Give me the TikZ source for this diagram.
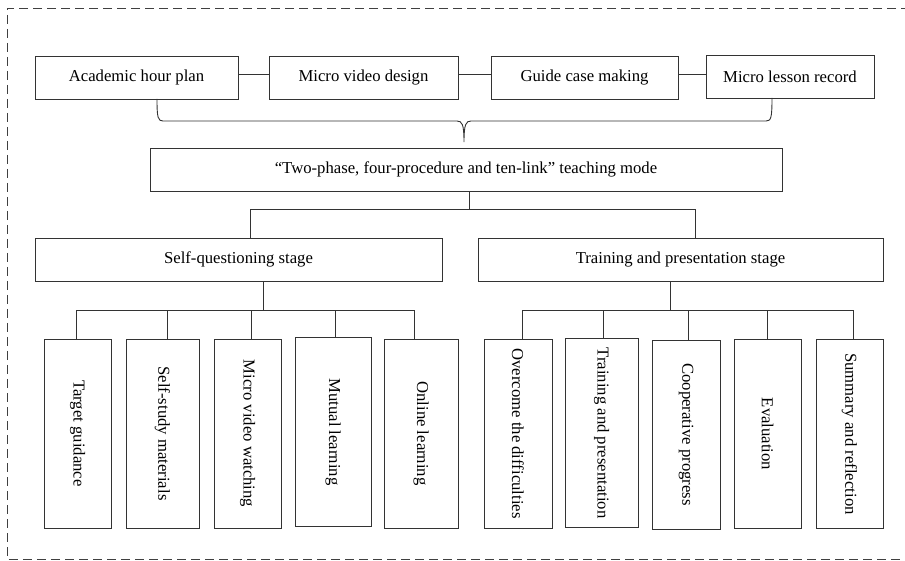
\documentclass[tikz,border=0pt]{standalone}
\usepackage{fontspec}
\setmainfont{Liberation Serif}
\begin{document}
\begin{tikzpicture}[x=1pt,y=-1pt,
  line width=0.9pt, draw=black!80,
  box/.style={draw=black!80, line width=0.9pt, inner sep=0pt, minimum height=43pt,
    font=\fontsize{16.7}{20}\selectfont, text=black},
  vbox/.style={draw=black!80, line width=0.9pt, inner sep=0pt, minimum height=189pt,
    font=\fontsize{16.7}{20}\selectfont, text=black},
  vtext/.style={rotate=-90, font=\fontsize{16.7}{20}\selectfont, text=black, inner sep=0pt},
  conn/.style={draw=black!80, line width=0.9pt}]
\useasboundingbox (0,0) rectangle (905,561);
% frame
\draw[black!75, line width=0.9pt, dash pattern=on 9pt off 5pt] (910,8) -- (7,8) -- (7,559) -- (910,559);
% top row
\node[box, minimum width=203pt] (A) at (136.5,77.5) {Academic hour plan};
\node[box, minimum width=189pt] (B) at (363.5,77.5) {Micro video design};
\node[box, minimum width=187pt] (C) at (584.5,77.5) {Guide case making};
\node[box, minimum width=168pt] (D) at (790,76.5) {Micro lesson record};
\coordinate (hy) at (0,74);
\draw[conn] (A.east |- hy) -- (B.west |- hy);
\draw[conn] (B.east |- hy) -- (C.west |- hy);
\draw[conn] (C.east |- hy) -- (D.west |- hy);
% brace
\coordinate (bl) at (157,99);
\coordinate (br) at (772,98);
\coordinate (bc) at (464,142);
\draw[conn] (bl) .. controls (157,118) and (158,121) .. (163,121) -- (457,121)
  .. controls (462,121) and (464,124) .. (bc)
  .. controls (464,124) and (466,121) .. (471,121) -- (766,121)
  .. controls (771,121) and (772,118) .. (br);
% central
\node[box, minimum width=632pt] (M) at (466,169.5) {``Two-phase, four-procedure and ten-link'' teaching mode};
% stages
\node[box, minimum width=407pt] (S1) at (238.5,259.5) {Self-questioning stage};
\node[box, minimum width=405pt] (S2) at (680.5,259.5) {Training and presentation stage};
\coordinate (j0) at (469,209);
\coordinate (xa) at (250,0);
\coordinate (xb) at (695,0);
\draw[conn] (M.south -| j0) -- (j0);
\draw[conn] (S1.north -| xa) -- (xa |- j0) -- (xb |- j0) -- (S2.north -| xb);
% left children
\node[vbox, minimum width=67pt] (T1) at (77.5,433.5) {};
\node[vbox, minimum width=73pt] (T2) at (162.5,433.5) {};
\node[vbox, minimum width=67pt] (T3) at (247.5,433.5) {};
\node[vbox, minimum width=76pt] (T4) at (333,432) {};
\node[vbox, minimum width=74pt] (T5) at (421,433.5) {};
\node[vtext] (t1) at (T1.center) {Target guidance};
\node[vtext] (t2) at (T2.center) {Self-study materials};
\node[vtext] (t3) at (T3.center) {Micro video watching};
\node[vtext] (t4) at (T4.center) {Mutual learning};
\node[vtext] (t5) at (T5.center) {Online learning};
% right children
\node[vbox, minimum width=68pt] (R1) at (518,433.5) {};
\node[vbox, minimum width=73pt] (R2) at (601.5,433) {};
\node[vbox, minimum width=68pt] (R3) at (686,434.5) {};
\node[vbox, minimum width=67pt] (R4) at (767.5,434) {};
\node[vbox, minimum width=67pt] (R5) at (849.5,434) {};
\node[vtext] (r1) at (R1.center) {Overcome the difficulties};
\node[vtext] (r2) at (R2.center) {Training and presentation};
\node[vtext] (r3) at (R3.center) {Cooperative progress};
\node[vtext] (r4) at (R4.center) {Evaluation};
\node[vtext] (r5) at (R5.center) {Summary and reflection};
% left bus
\coordinate (jl) at (263,310);
\draw[conn] (S1.south -| jl) -- (jl);
\coordinate (l1) at (76,0); \coordinate (l2) at (167,0); \coordinate (l3) at (251,0);
\coordinate (l4) at (335,0); \coordinate (l5) at (414,0);
\draw[conn] (T1.north -| l1) -- (l1 |- jl) -- (l5 |- jl) -- (T5.north -| l5);
\draw[conn] (T2.north -| l2) -- (l2 |- jl);
\draw[conn] (T3.north -| l3) -- (l3 |- jl);
\draw[conn] (T4.north -| l4) -- (l4 |- jl);
% right bus
\coordinate (jr) at (670,310);
\draw[conn] (S2.south -| jr) -- (jr);
\coordinate (m1) at (522,0); \coordinate (m2) at (603,0); \coordinate (m3) at (688,0);
\coordinate (m4) at (767,0); \coordinate (m5) at (853,0);
\draw[conn] (R1.north -| m1) -- (m1 |- jr) -- (m5 |- jr) -- (R5.north -| m5);
\draw[conn] (R2.north -| m2) -- (m2 |- jr);
\draw[conn] (R3.north -| m3) -- (m3 |- jr);
\draw[conn] (R4.north -| m4) -- (m4 |- jr);
\end{tikzpicture}
\end{document}
